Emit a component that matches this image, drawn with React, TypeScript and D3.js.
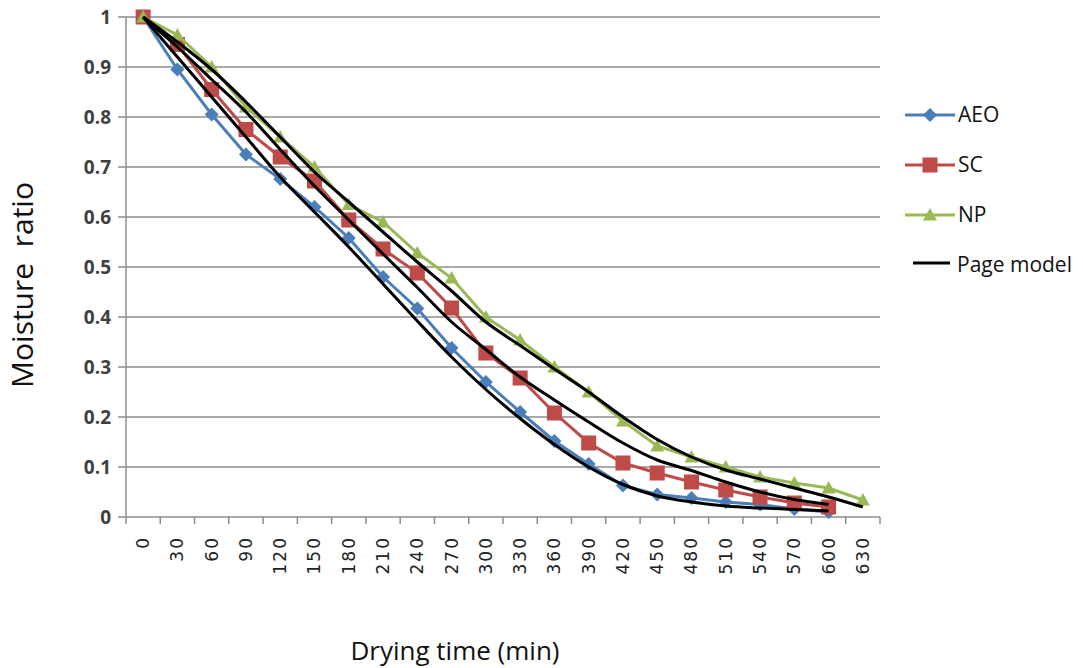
import React, { useEffect, useRef } from 'react';
import * as d3 from 'd3';

const times = [0, 30, 60, 90, 120, 150, 180, 210, 240, 270, 300, 330, 360, 390, 420, 450, 480, 510, 540, 570, 600, 630];
const yTicks = [0, 0.1, 0.2, 0.3, 0.4, 0.5, 0.6, 0.7, 0.8, 0.9, 1];

// measured moisture ratio (AEO and SC stop at 600 min)
const aeo = [1, 0.895, 0.805, 0.725, 0.676, 0.62, 0.558, 0.48, 0.417, 0.338, 0.27, 0.21, 0.152, 0.106, 0.063, 0.045, 0.038, 0.03, 0.025, 0.016, 0.01];
const sc = [1, 0.945, 0.855, 0.775, 0.72, 0.672, 0.594, 0.536, 0.488, 0.418, 0.328, 0.278, 0.208, 0.148, 0.108, 0.088, 0.07, 0.054, 0.04, 0.028, 0.02];
const np = [1, 0.964, 0.9, 0.82, 0.76, 0.7, 0.625, 0.59, 0.528, 0.478, 0.4, 0.354, 0.3, 0.25, 0.192, 0.142, 0.12, 0.1, 0.08, 0.068, 0.058, 0.034];

// Page model curves
const pageAeo = [1, 0.92, 0.84, 0.76, 0.68, 0.61, 0.54, 0.466, 0.392, 0.32, 0.255, 0.197, 0.145, 0.1, 0.065, 0.042, 0.03, 0.022, 0.018, 0.015, 0.012];
const pageSc = [1, 0.94, 0.875, 0.81, 0.735, 0.662, 0.594, 0.526, 0.459, 0.39, 0.335, 0.28, 0.234, 0.19, 0.148, 0.114, 0.093, 0.07, 0.05, 0.035, 0.025];
const pageNp = [1, 0.95, 0.895, 0.83, 0.76, 0.69, 0.63, 0.57, 0.51, 0.452, 0.39, 0.343, 0.296, 0.25, 0.2, 0.155, 0.12, 0.094, 0.076, 0.058, 0.04, 0.02];

const series = [
  { name: 'AEO', values: aeo, color: '#4A7EBB', marker: 'diamond' },
  { name: 'SC', values: sc, color: '#BE4B48', marker: 'square' },
  { name: 'NP', values: np, color: '#98B954', marker: 'triangle' },
];
const models = [pageAeo, pageSc, pageNp];

const App = () => {
  const ref = useRef<SVGSVGElement>(null);

  useEffect(() => {
    const svg = d3.select(ref.current);
    svg.selectAll('*').remove();

    const left = 126, right = 880, top = 17, bottom = 517;
    const x = d3.scaleBand<number>().domain(times).range([left, right]).padding(0);
    const y = d3.scaleLinear().domain([0, 1]).range([bottom, top]);
    const cx = (i: number) => x(times[i])! + x.bandwidth() / 2;
    const grey = '#8c8c8c';

    // gridlines + y ticks
    svg.append('g').selectAll('line').data(yTicks).enter().append('line')
      .attr('x1', left - 8).attr('x2', right)
      .attr('y1', d => y(d)).attr('y2', d => y(d))
      .attr('stroke', grey).attr('stroke-width', 1.5);
    svg.append('line').attr('x1', left).attr('x2', left).attr('y1', top).attr('y2', bottom)
      .attr('stroke', grey).attr('stroke-width', 1.5);

    svg.append('g').selectAll('text').data(yTicks).enter().append('text')
      .attr('x', 111).attr('y', d => y(d)).attr('dy', '0.35em')
      .attr('text-anchor', 'end')
      .style('font-family', 'Open Sans, sans-serif').style('font-weight', 700)
      .style('font-size', '19px').style('fill', '#404040')
      .text(d => String(d));

    // x axis ticks at category boundaries
    const edges = times.map(t => x(t)!).concat([right]);
    svg.append('g').selectAll('line').data(edges).enter().append('line')
      .attr('x1', d => d).attr('x2', d => d).attr('y1', bottom).attr('y2', bottom + 7)
      .attr('stroke', grey).attr('stroke-width', 1.5);

    svg.append('g').selectAll('text').data(times).enter().append('text')
      .attr('transform', (d, i) => `translate(${cx(i)},${bottom + 19}) rotate(-90)`)
      .attr('dy', '0.35em').attr('text-anchor', 'end')
      .style('font-family', 'DejaVu Sans, sans-serif').style('font-size', '17px')
      .style('letter-spacing', '2px').style('fill', '#222')
      .text(d => String(d));

    // Page model curves
    const smooth = d3.line<number>().x((d, i) => cx(i)).y(d => y(d)).curve(d3.curveCatmullRom);
    const straight = d3.line<number>().x((d, i) => cx(i)).y(d => y(d));

    series.forEach(s => {
      svg.append('path').attr('d', straight(s.values)!)
        .attr('fill', 'none').attr('stroke', s.color).attr('stroke-width', 3);
      const g = svg.append('g');
      s.values.forEach((v, i) => drawMarker(g, s.marker, cx(i), y(v), s.color));
    });

    models.forEach(m => {
      svg.append('path').attr('d', smooth(m)!)
        .attr('fill', 'none').attr('stroke', '#000').attr('stroke-width', 3);
    });

    // legend
    const lg = svg.append('g');
    const items = [...series.map(s => ({ name: s.name, color: s.color, marker: s.marker })),
      { name: 'Page model', color: '#000', marker: '' }];
    items.forEach((it, i) => {
      const ly = 115 + i * 50;
      if (it.marker) {
        lg.append('line').attr('x1', 905).attr('x2', 955).attr('y1', ly).attr('y2', ly)
          .attr('stroke', it.color).attr('stroke-width', 3);
        drawMarker(lg, it.marker, 930, ly, it.color);
      } else {
        lg.append('line').attr('x1', 913).attr('x2', 950).attr('y1', ly - 2).attr('y2', ly - 2)
          .attr('stroke', '#000').attr('stroke-width', 3);
      }
      lg.append('text').attr('x', it.marker ? 958 : 957).attr('y', ly).attr('dy', '0.35em')
        .style('font-family', 'Open Sans, sans-serif').style('font-size', '21px').style('fill', '#111')
        .text(it.name);
    });

    // axis titles
    svg.append('text').attr('x', 455).attr('y', 660).attr('text-anchor', 'middle')
      .style('font-family', 'Open Sans, sans-serif').style('font-size', '26px').style('fill', '#111')
      .text('Drying time (min)');
    svg.append('text').attr('transform', 'translate(22,285) rotate(-90)')
      .attr('text-anchor', 'middle').attr('dy', '0.35em')
      .style('font-family', 'Open Sans, sans-serif').style('font-size', '30px').style('fill', '#111')
      .style('white-space', 'pre')
      .text('Moisture  ratio');
  }, []);

  return (
    <svg ref={ref} width={1083} height={668}
      style={{ position: 'absolute', left: 0, top: 0, background: '#fff' }} />
  );
};

function drawMarker(g: any, kind: string, px: number, py: number, color: string) {
  if (kind === 'diamond') {
    const r = 7;
    g.append('path').attr('d', `M${px},${py - r}L${px + r},${py}L${px},${py + r}L${px - r},${py}Z`).attr('fill', color);
  } else if (kind === 'square') {
    const r = 7.5;
    g.append('rect').attr('x', px - r).attr('y', py - r).attr('width', 2 * r).attr('height', 2 * r).attr('fill', color);
  } else if (kind === 'triangle') {
    const r = 7;
    g.append('path').attr('d', `M${px},${py - r}L${px + r},${py + r * 0.8}L${px - r},${py + r * 0.8}Z`).attr('fill', color);
  }
}

export default App;
